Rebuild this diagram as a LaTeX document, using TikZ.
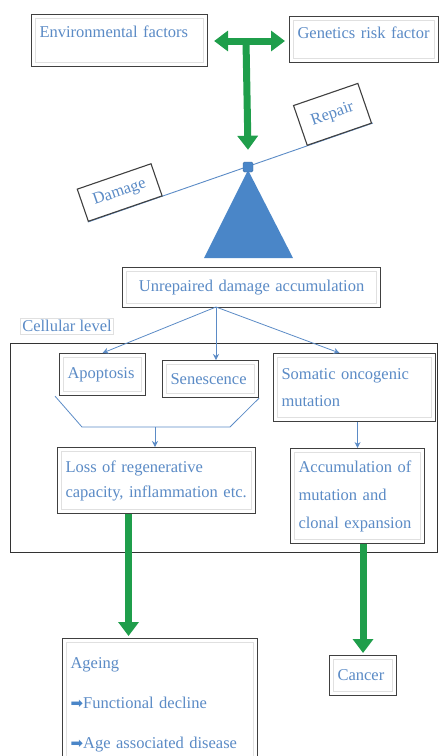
\documentclass[tikz,border=0pt]{standalone}
\usepackage{fontspec}
\setmainfont{Liberation Serif}
\newfontfamily\dejavu{DejaVu Sans}
\usetikzlibrary{arrows.meta, calc, positioning}
\definecolor{txtblue}{HTML}{5B8BC6}
\definecolor{fillblue}{HTML}{4A86C8}
\definecolor{darkgreen}{HTML}{1F9E4B}
\tikzset{bigtip/.tip={Triangle[length=14pt, width=20pt]}}

\begin{document}
\begin{tikzpicture}[x=1pt, y=-1pt,
        box/.style={draw=black!75, line width=1.1pt, fill=white, text=txtblue, align=left,
            inner xsep=8pt, inner ysep=4pt, anchor=north west, font=\fontsize{16.5}{25}\selectfont,
            path picture={\draw[black!12, line width=0.6pt]
                ([shift={(4pt,-4pt)}]path picture bounding box.north west) rectangle
                ([shift={(-4pt,4pt)}]path picture bounding box.south east);}},
        tilted/.style={draw=black!75, line width=1.1pt, fill=white, text=txtblue,
            font=\fontsize{16.5}{20}\selectfont, anchor=south west, rotate=19},
        thinarrow/.style={draw=txtblue, line width=0.8pt, -{Stealth[length=6pt, width=6pt]}},
        bigline/.style={draw=darkgreen, line width=7pt}]
    \useasboundingbox (0, 0) rectangle (439, 756);
    \clip (0, 0) rectangle (439, 756);

    \draw[black!80, line width=1pt] (10, 343) rectangle (437, 552);

    \coordinate (beamL) at (88, 222);
    \coordinate (beamR) at (373, 123);
    \draw[txtblue, line width=0.9pt] (beamL) -- (beamR);
    \fill[fillblue] (248, 170) -- (204, 258) -- (293, 258) -- cycle;

    \node[box, text width=160pt, text depth=18pt, minimum height=52pt] (env) at (31, 14) {Environmental factors};
    \node[box, text width=133pt, text depth=14pt, minimum height=46pt] (gen) at (289, 16) {Genetics risk factor};
    \node[tilted, minimum width=78pt, minimum height=34pt] (damage) at (beamL) {Damage};
    \node[tilted, minimum width=68pt, minimum height=42pt] (repair) at ($(beamL)!0.768!(beamR)$) {Repair};
    \node[fill=fillblue, draw=fillblue!80!black, minimum size=10pt, inner sep=0pt, rounded corners=1.5pt] (pivot) at (248, 167) {};

    \node[box, text width=242pt, minimum height=40pt, align=center] (unrep) at (122, 267) {Unrepaired damage accumulation};
    \node[draw=black!12, text=txtblue, inner sep=2pt, font=\fontsize{16.5}{20}\selectfont] (cell) at (67, 326) {Cellular level};
    \node[box, text width=70pt, minimum height=42pt] (apop) at (59, 353) {Apoptosis};
    \node[box, text width=80pt, minimum height=37pt] (sen) at (162, 360) {Senescence};
    \node[box, text width=146pt, minimum height=68pt, font=\fontsize{16.5}{27}\selectfont] (som) at (273, 353) {Somatic oncogenic\\mutation};
    \node[box, text width=182pt, minimum height=66pt] (loss) at (57, 447) {Loss of regenerative\\capacity, inflammation etc.};
    \node[box, text width=118pt, minimum height=95pt, font=\fontsize{16.5}{28}\selectfont] (acc) at (290, 448) {Accumulation of\\mutation and\\clonal expansion};
    \node[box, text width=179pt, minimum height=132pt, font=\fontsize{16.5}{40}\selectfont] (ageing) at (62, 638) {Ageing\\
        {\color{fillblue}\dejavu\fontsize{15}{15}\selectfont ➡}Functional decline\\
        {\color{fillblue}\dejavu\fontsize{15}{15}\selectfont ➡}Age associated disease};
    \node[box, text width=51pt, minimum height=40pt] (cancer) at (329, 655) {Cancer};

    \coordinate (tee) at (246, 41);
    \coordinate (fork) at (216, 307);
    \coordinate (merge) at (155, 427);

    \draw[bigline, bigtip-bigtip] ([xshift=6pt]env.east |- tee) -- ([xshift=-4pt]gen.west |- tee);
    \draw[bigline, -bigtip] (tee) -- ([yshift=12pt]pivot.north);

    \draw[thinarrow] (fork) -- (apop.north);
    \draw[thinarrow] (fork) -- (fork |- sen.north);
    \draw[thinarrow] (fork) -- ([xshift=-15pt]som.north);
    \draw[txtblue, line width=0.8pt] ([xshift=-4pt]apop.south west) -- (82, 427) -- (230, 427) -- (sen.south east);
    \draw[thinarrow] (merge) -- (merge |- loss.north);
    \draw[thinarrow] (acc.north |- som.south) -- (acc.north);

    \draw[bigline, -bigtip] ([xshift=-28pt]loss.south) -- ([xshift=-28pt, yshift=2pt]loss.south |- ageing.north);
    \draw[bigline, -bigtip] (acc.south -| cancer.north) -- ([yshift=2pt]cancer.north);
\end{tikzpicture}
\end{document}
